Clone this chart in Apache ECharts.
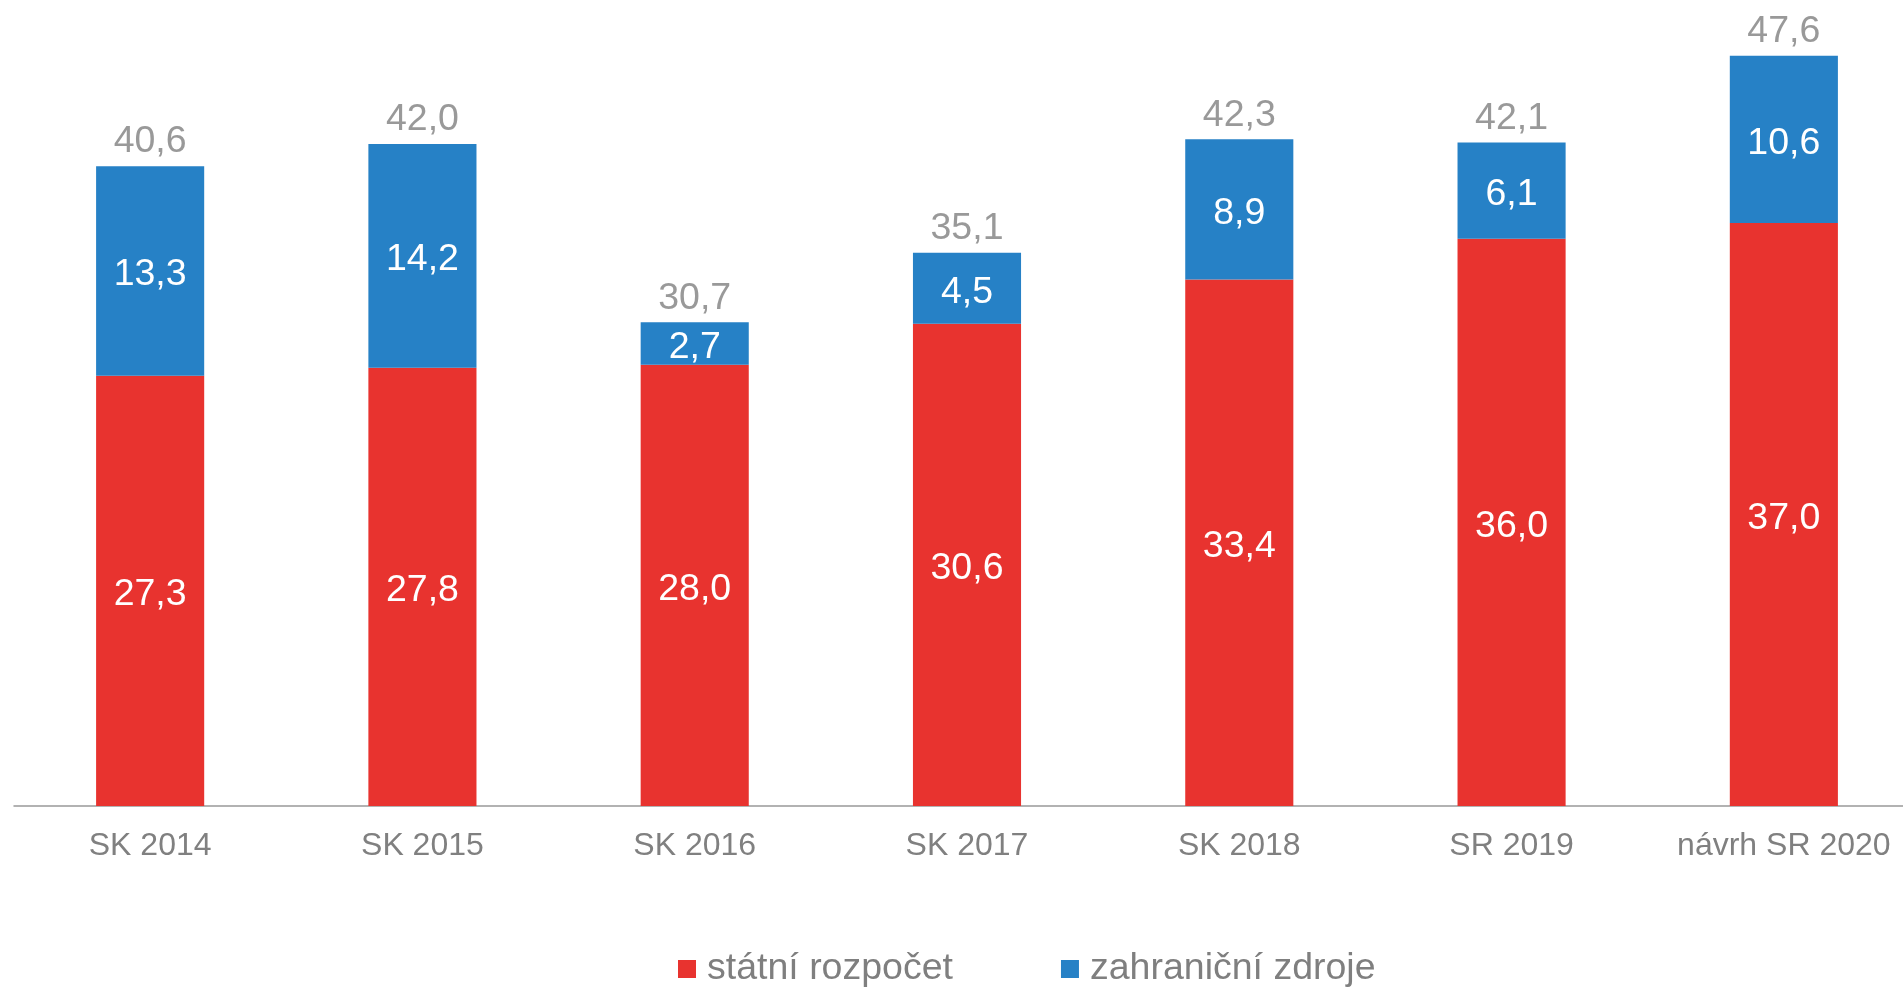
<!DOCTYPE html>
<html>
<head>
<meta charset="utf-8">
<script src="https://cdn.jsdelivr.net/npm/echarts@6/dist/echarts.min.js"></script>
<style>
  html, body { margin: 0; padding: 0; background: #fff; overflow: hidden; }
  #main { width: 1925px; height: 988px; }
</style>
</head>
<body>
<div id="main"></div>
<script>
let categories = ['SK 2014', 'SK 2015', 'SK 2016', 'SK 2017', 'SK 2018', 'SR 2019', 'návrh SR 2020'];
let statniRozpocet = [27.3, 27.8, 28.0, 30.6, 33.4, 36.0, 37.0];
let zahranicniZdroje = [13.3, 14.2, 2.7, 4.5, 8.9, 6.1, 10.6];
let celkem = [40.6, 42.0, 30.7, 35.1, 42.3, 42.1, 47.6];

let font = '"Liberation Sans", Arial, sans-serif';
let fmt = function (v) {
  return Number(v).toFixed(1).replace('.', ',');
};

let myChart = echarts.init(document.getElementById('main'));

let innerLabel = {
  show: true,
  position: 'inside',
  offset: [0, 4],
  color: '#ffffff',
  fontSize: 37.5,
  fontFamily: font,
  formatter: function (p) { return fmt(p.value); }
};

let option = {
  animation: false,
  textStyle: { fontFamily: font },
  grid: {
    left: 14,
    width: 1906,
    top: 18,
    height: 788
  },
  legend: {
    data: ['státní rozpočet', 'zahraniční zdroje'],
    left: 673,
    top: 945,
    itemWidth: 18,
    itemHeight: 18,
    itemGap: 108,
    icon: 'rect',
    textStyle: {
      color: '#7f7f7f',
      fontSize: 37.5,
      fontFamily: font,
      padding: [0, 0, 0, 6]
    }
  },
  xAxis: {
    type: 'category',
    data: categories,
    axisTick: { show: false },
    axisLine: {
      lineStyle: { color: '#999999', width: 1.5 }
    },
    axisLabel: {
      interval: 0,
      color: '#808080',
      fontSize: 32,
      fontFamily: font,
      margin: 24
    }
  },
  yAxis: {
    type: 'value',
    min: 0,
    max: 50,
    show: false
  },
  series: [
    {
      name: 'státní rozpočet',
      type: 'bar',
      stack: 'celkem',
      barWidth: '39.7%',
      data: statniRozpocet,
      itemStyle: { color: '#e8332f' },
      label: innerLabel
    },
    {
      name: 'zahraniční zdroje',
      type: 'bar',
      stack: 'celkem',
      data: zahranicniZdroje,
      itemStyle: { color: '#2681c6' },
      label: innerLabel
    },
    {
      name: 'celkem',
      type: 'scatter',
      data: celkem,
      symbolSize: 0,
      silent: true,
      label: {
        show: true,
        position: 'top',
        distance: 5,
        color: '#808080',
        fontSize: 37.5,
        fontFamily: font,
        formatter: function (p) { return fmt(p.value); }
      }
    }
  ]
};

myChart.setOption(option);
</script>
</body>
</html>
